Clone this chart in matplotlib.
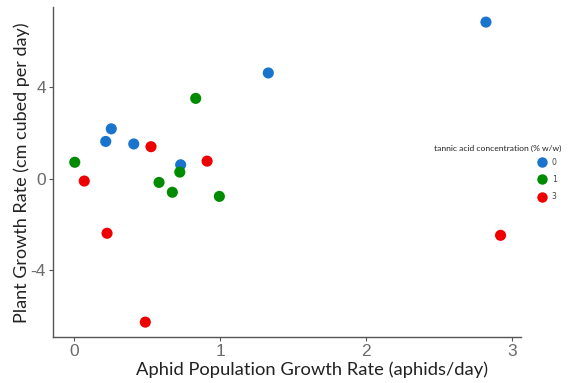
import matplotlib
matplotlib.use("Agg")
import matplotlib.pyplot as plt
from matplotlib.lines import Line2D

# Aphid population growth rate vs plant growth rate, by tannic acid level
levels = ["0", "1", "3"]
level_colors = ["#1874CD", "#008B00", "#EE0000"]

aphid_0 = [2.82, 1.33, 0.255, 0.217, 0.409, 0.73]
plant_0 = [6.83, 4.61, 2.17, 1.62, 1.51, 0.60]

aphid_1 = [0.005, 0.833, 0.582, 0.673, 0.724, 0.995]
plant_1 = [0.71, 3.50, -0.17, -0.60, 0.28, -0.78]

aphid_3 = [0.07, 0.527, 0.226, 0.488, 0.911, 2.92]
plant_3 = [-0.11, 1.39, -2.39, -6.27, 0.76, -2.48]

x_series = [aphid_0, aphid_1, aphid_3]
y_series = [plant_0, plant_1, plant_3]

x_ticks = [0, 1, 2, 3]
y_ticks = [-4, 0, 4]

fig = plt.figure(figsize=(5.68, 3.83), dpi=100)
ax = fig.add_axes([53 / 568, 1 - 337 / 383, (521 - 53) / 568, (337 - 7) / 383])

for xs, ys, c in zip(x_series, y_series, level_colors):
    ax.scatter(xs, ys, s=64, color=c, edgecolors="none", zorder=3)

ax.set_xlim(-0.144, 3.06)
ax.set_ylim(-6.92, 7.49)
ax.set_xticks(x_ticks)
ax.set_yticks(y_ticks)
ax.set_xticklabels([str(t) for t in x_ticks])
ax.set_yticklabels([str(t) for t in y_ticks])

for side in ("top", "right"):
    ax.spines[side].set_visible(False)
for side in ("left", "bottom"):
    ax.spines[side].set_color("#555555")
    ax.spines[side].set_linewidth(1.0)

ax.tick_params(axis="both", colors="#555555", labelcolor="#6b6b6b",
               length=3, width=0.8, labelsize=12.5, pad=2)
for lab in ax.get_xticklabels() + ax.get_yticklabels():
    lab.set_family("Liberation Sans")

fig.text(312 / 568, 1 - 370 / 383, "Aphid Population Growth Rate (aphids/day)",
         ha="center", va="center", fontsize=13.2, family="Lato", color="#222222")
fig.text(22 / 568, 1 - 173 / 383, "Plant Growth Rate (cm cubed per day)",
         ha="center", va="center", rotation=90, fontsize=13, family="Lato",
         color="#222222")

# legend title and keys
fig.text(434 / 568, 1 - 148 / 383, "tannic acid concentration (% w/w)",
         ha="left", va="center", fontsize=6.1, family="Lato", color="#222222")
handles = [Line2D([], [], marker="o", linestyle="none", markersize=7.5,
                  markerfacecolor=c, markeredgecolor="none") for c in level_colors]
leg = fig.legend(handles, levels, loc="upper left",
                 bbox_to_anchor=(537 / 568, 1 - 158 / 383),
                 frameon=False, fontsize=5.6, handletextpad=0.5,
                 labelspacing=1.05, borderpad=0, borderaxespad=0,
                 handlelength=1.4)
for t in leg.get_texts():
    t.set_color("#444444")

fig.savefig("out.png", dpi=100)
